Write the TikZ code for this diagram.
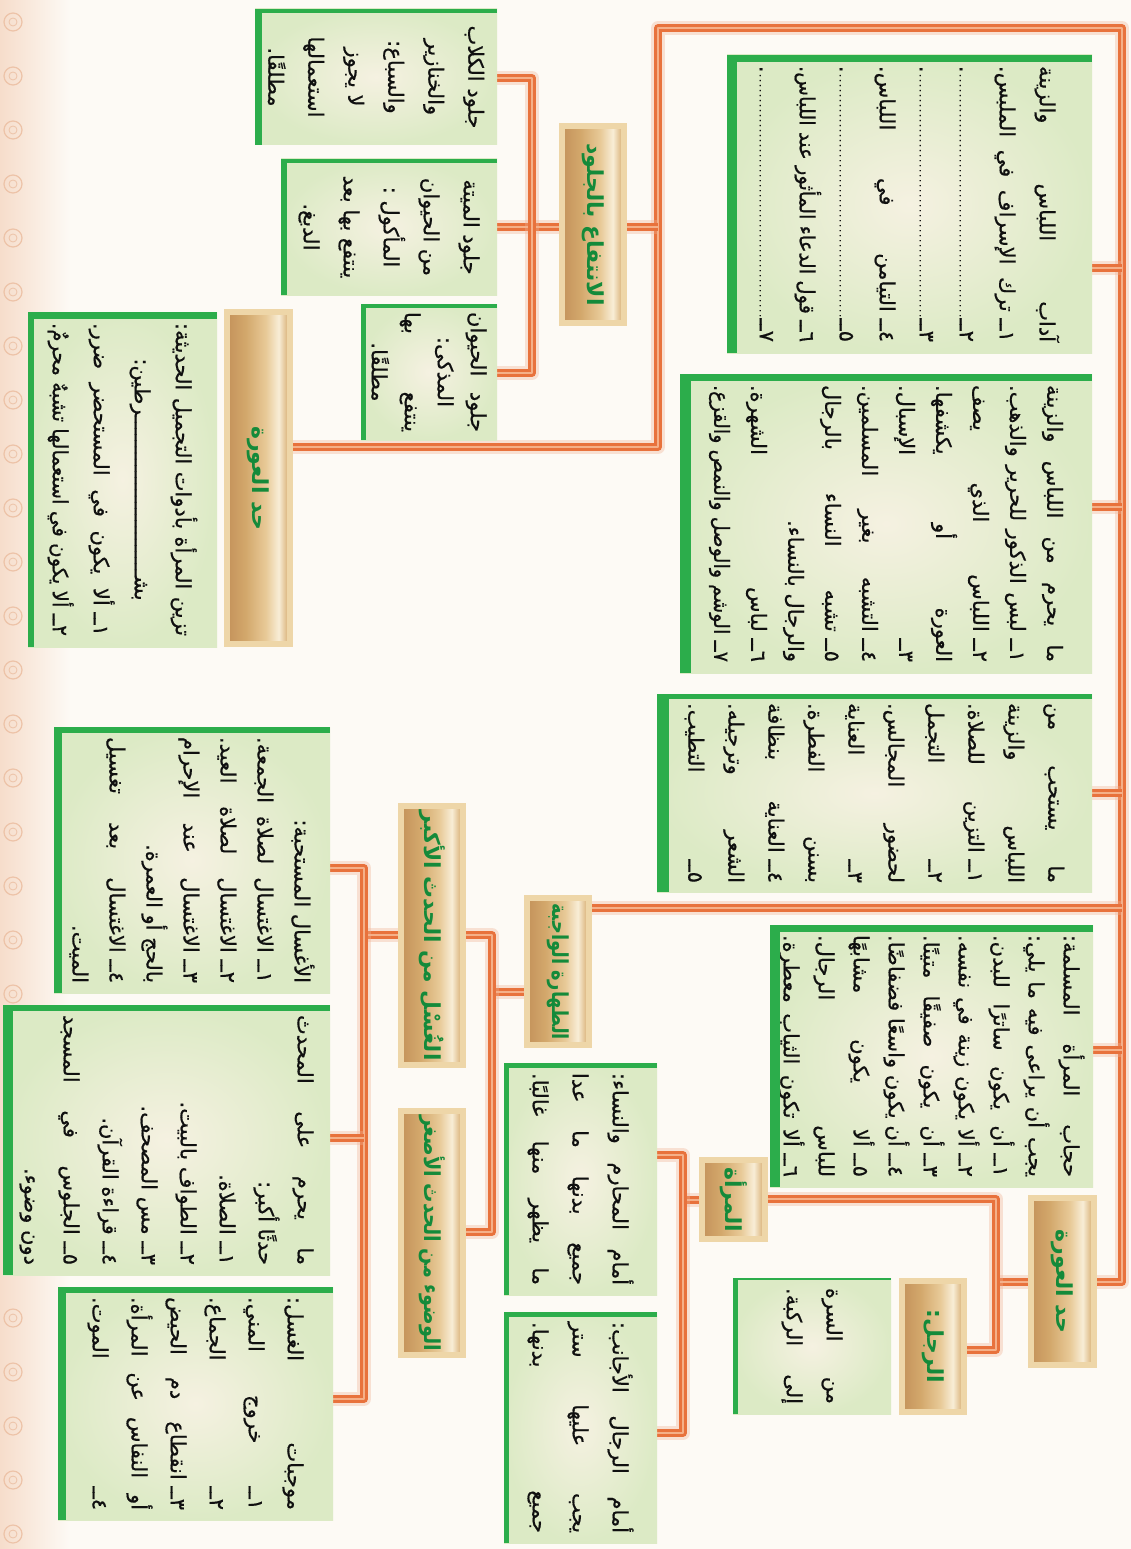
\documentclass[tikz,border=0pt]{standalone}
\usepackage{fontspec}
\usepackage{graphicx}
\usetikzlibrary{calc,backgrounds}
\TeXXeTstate=1
\newfontfamily\ar[Script=Arabic]{DejaVu Sans}
\newfontfamily\arbody[Script=Arabic,FakeBold=0.6]{DejaVu Sans}
\definecolor{bgc}{HTML}{FDFAF5}
\definecolor{peach}{HTML}{F6DDCB}
\definecolor{peachline}{HTML}{EDC3A8}
\definecolor{boxin}{HTML}{F5F1E1}
\definecolor{boxout}{HTML}{DCEAC5}
\definecolor{barg}{HTML}{2CAD4B}
\definecolor{txt}{HTML}{101010}
\definecolor{cylborder}{HTML}{EED6A8}
\definecolor{cylgreen}{HTML}{148A3A}
\definecolor{cyA}{HTML}{C4925A}
\definecolor{cyB}{HTML}{D3A86C}
\definecolor{cyC}{HTML}{E8CA98}
\definecolor{cyD}{HTML}{F8EDD6}
\definecolor{cyE}{HTML}{D3A564}
\definecolor{pipec}{HTML}{E8723C}
\definecolor{pipelight}{HTML}{F5B088}
\definecolor{pipeglow}{HTML}{F0B293}
\pgfdeclarehorizontalshading{cylsh}{100bp}{color(0bp)=(cyA); color(25bp)=(cyA); color(40bp)=(cyB); color(56bp)=(cyC); color(66bp)=(cyD); color(75bp)=(cyE); color(100bp)=(cyE)}

% #3 is one line of right-to-left text, already inside \beginR ... \endR
\newcommand\mkln[3]{\setbox0=\hbox{#3}%
  \ifdim\wd0>\hsize\hbox to\hsize{\resizebox{\hsize}{\height}{\box0}}%
  \else\hbox to\hsize{#1#3#2}\fi}
\newcommand\lnJ[1]{\mkln{}{}{#1}}
\newcommand\lnR[1]{\mkln{\hfil}{}{#1}}
\newcommand\lnC[1]{\mkln{\hfil}{\hfil}{#1}}
\newcommand\dotsln{\cleaders\hbox to 5pt{\hss\fontsize{10}{10}\selectfont.\hss}\hfill}
\newcommand\lnD[1]{\hbox to\hsize{#1}}
\newcommand\tbx[3]{\rotatebox{-90}{\parbox{#1pt}{\arbody\color{txt}\fontsize{21}{#2}\selectfont #3}}}
\newcommand\cbx[2]{\rotatebox{-90}{\parbox{#1pt}{\ar\bfseries\fontsize{22}{26}\selectfont\lnC{#2}}}}
\newcommand\gbar[3]{\fill[barg] (#1.north west) rectangle ($(#1.south west)+(#2,0)$);
  \fill[barg] (#1.north west) rectangle ($(#1.north east)+(0,-#3)$);}
\newcommand\pp[1]{\draw[glow] #1; \draw[pipe] #1;}

\begin{document}
\begin{tikzpicture}[x=1pt,y=1pt,
  box/.style={inner sep=0pt,outer sep=0pt,inner color=boxin,outer color=boxout},
  cyl/.style={draw=cylborder,line width=6pt,shading=cylsh,inner sep=0pt,text=cylgreen},
  pipe/.style={draw=pipec,line width=2.8pt,double=pipelight,double distance=2pt,line join=round},
  glow/.style={draw=pipeglow,line width=14pt,opacity=0.35,line join=round}]
\useasboundingbox (0,0) rectangle (1131,-1549);

% ---------- boxes ----------
\node[box,minimum width=365,minimum height=298] (B1) at (909.5,-204) {\tbx{276}{40}{%
\lnJ{\beginR آداب \hfill اللباس \hfill والزينة\endR}
\lnJ{\beginR ١ــ ترك \hfill الإسراف \hfill في \hfill الملبس.\endR}
\lnD{\beginR ٢ــ\dotsln.\endR}
\lnD{\beginR ٣ــ\dotsln.\endR}
\lnJ{\beginR ٤ــ التيامن \hfill في \hfill اللباس.\endR}
\lnD{\beginR ٥ــ\dotsln.\endR}
\lnJ{\beginR ٦ــ قول \hfill الدعاء \hfill المأثور \hfill عند \hfill اللباس.\endR}
\lnD{\beginR ٧ــ\dotsln.\endR}}};

\node[box,minimum width=412,minimum height=299] (B2) at (886,-523.5) {\tbx{277}{37}{%
\lnJ{\beginR ما \hfill يحرم \hfill من \hfill اللباس \hfill والزينة\endR}
\lnJ{\beginR ١ــ لبس \hfill الذكور \hfill للحرير \hfill والذهب.\endR}
\lnJ{\beginR ٢ــ اللباس \hfill الذي \hfill يصف\endR}
\lnJ{\beginR العورة \hfill أو \hfill يكشفها.\endR}
\lnJ{\beginR ٣ــ \hfill الإسبال.\endR}
\lnJ{\beginR ٤ــ التشبه \hfill بغير \hfill المسلمين.\endR}
\lnJ{\beginR ٥ــ تشبه \hfill النساء \hfill بالرجال\endR}
\lnR{\beginR والرجال بالنساء.\endR}
\lnJ{\beginR ٦ــ لباس \hfill الشهرة.\endR}
\lnJ{\beginR ٧ــ الوشم \hfill والوصل \hfill والنمص \hfill والقزع.\endR}}};

\node[box,minimum width=435,minimum height=198] (B3) at (874.5,-793) {\tbx{180}{40}{%
\lnJ{\beginR ما \hfill يستحب \hfill من\endR}
\lnJ{\beginR اللباس \hfill والزينة\endR}
\lnJ{\beginR ١ــ التزين \hfill للصلاة.\endR}
\lnJ{\beginR ٢ــ \hfill التجمل\endR}
\lnJ{\beginR لحضور \hfill المجالس.\endR}
\lnJ{\beginR ٣ــ \hfill العناية\endR}
\lnJ{\beginR بسنن \hfill الفطرة.\endR}
\lnJ{\beginR ٤ــ العناية \hfill بنظافة\endR}
\lnJ{\beginR الشعر \hfill وترجيله.\endR}
\lnJ{\beginR ٥ــ \hfill التطيب.\endR}}};

\node[box,minimum width=323,minimum height=262] (B4) at (931.5,-1056) {\tbx{242}{35}{%
\lnJ{\beginR حجاب \hfill المرأة \hfill المسلمة:\endR}
\lnJ{\beginR يجب \hfill أن \hfill يراعى \hfill فيه \hfill ما \hfill يلي:\endR}
\lnJ{\beginR ١ــ أن \hfill يكون \hfill ساترًا \hfill للبدن.\endR}
\lnJ{\beginR ٢ــ ألا \hfill يكون \hfill زينة \hfill في \hfill نفسه.\endR}
\lnJ{\beginR ٣ــ أن \hfill يكون \hfill صفيقًا \hfill متينًا.\endR}
\lnJ{\beginR ٤ــ أن \hfill يكون \hfill واسعًا \hfill فضفاضًا.\endR}
\lnJ{\beginR ٥ــ ألا \hfill يكون \hfill مشابهًا\endR}
\lnJ{\beginR للباس \hfill الرجال.\endR}
\lnJ{\beginR ٦ــ ألا \hfill تكون \hfill الثياب \hfill معطرة.\endR}}};

\node[box,minimum width=158,minimum height=136] (B7) at (812,-1346) {\tbx{116}{40}{%
\lnJ{\beginR من \hfill السرة\endR}
\lnJ{\beginR إلى \hfill الركبة.\endR}}};

\node[box,minimum width=153,minimum height=232] (B9) at (580.5,-1179) {\tbx{212}{40}{%
\lnJ{\beginR أمام \hfill المحارم \hfill والنساء:\endR}
\lnJ{\beginR جميع \hfill بدنها \hfill ما \hfill عدا\endR}
\lnJ{\beginR ما \hfill يظهر \hfill منها \hfill غالبًا.\endR}}};

\node[box,minimum width=153,minimum height=231] (B10) at (580.5,-1427.5) {\tbx{211}{40}{%
\lnJ{\beginR أمام \hfill الرجال \hfill الأجانب:\endR}
\lnJ{\beginR يجب \hfill عليها \hfill ستر\endR}
\lnJ{\beginR جميع \hfill بدنها.\endR}}};

\node[box,minimum width=276,minimum height=266] (B14) at (192,-860) {\tbx{246}{37}{%
\lnR{\beginR الأغسال المستحبة:\endR}
\lnJ{\beginR ١ــ الاغتسال \hfill لصلاة \hfill الجمعة.\endR}
\lnJ{\beginR ٢ــ الاغتسال \hfill لصلاة \hfill العيد.\endR}
\lnJ{\beginR ٣ــ الاغتسال \hfill عند \hfill الإحرام\endR}
\lnR{\beginR بالحج أو العمرة.\endR}
\lnJ{\beginR ٤ــ الاغتسال \hfill بعد \hfill تغسيل\endR}
\lnR{\beginR الميت.\endR}}};

\node[box,minimum width=327,minimum height=270] (B15) at (166.5,-1140) {\tbx{250}{39}{%
\lnJ{\beginR ما \hfill يحرم \hfill على \hfill المحدث\endR}
\lnR{\beginR حدثًا أكبر:\endR}
\lnR{\beginR ١ــ الصلاة.\endR}
\lnR{\beginR ٢ــ الطواف بالبيت.\endR}
\lnR{\beginR ٣ــ مس المصحف.\endR}
\lnR{\beginR ٤ــ قراءة القرآن.\endR}
\lnJ{\beginR ٥ــ الجلوس \hfill في \hfill المسجد\endR}
\lnR{\beginR دون وضوء.\endR}}};

\node[box,minimum width=275,minimum height=233] (B16) at (195.5,-1403.5) {\tbx{213}{39}{%
\lnJ{\beginR موجبات \hfill الغسل:\endR}
\lnJ{\beginR ١ــ \hfill خروج \hfill المني.\endR}
\lnJ{\beginR ٢ــ \hfill الجماع.\endR}
\lnJ{\beginR ٣ــ انقطاع \hfill دم \hfill الحيض\endR}
\lnJ{\beginR أو \hfill النفاس \hfill عن \hfill المرأة.\endR}
\lnJ{\beginR ٤ــ \hfill الموت.\endR}}};

\node[box,minimum width=189,minimum height=335] (B18) at (122.5,-479.5) {\tbx{313}{41}{%
\lnJ{\beginR تزين \hfill المرأة \hfill بأدوات \hfill التجميل \hfill الحديثة:\endR}
\lnC{\beginR بشــــــــــــــــــــــــــرطين:\endR}
\lnJ{\beginR ١ــ ألا \hfill يكون \hfill في \hfill المستحضر \hfill ضرر.\endR}
\lnJ{\beginR ٢ــ ألا \hfill يكون \hfill في \hfill استعمالها \hfill تشبهٌ \hfill محرمٌ.\endR}}};

\node[box,minimum width=242,minimum height=136] (B20) at (376,-77) {\tbx{122}{40}{%
\lnC{\beginR جلود الكلاب\endR}
\lnC{\beginR والخنازير\endR}
\lnC{\beginR والسباع:\endR}
\lnC{\beginR لا يجوز\endR}
\lnC{\beginR استعمالها\endR}
\lnC{\beginR مطلقًا.\endR}}};

\node[box,minimum width=216,minimum height=136] (B21) at (389,-227) {\tbx{122}{40}{%
\lnC{\beginR جلود الميتة\endR}
\lnC{\beginR من الحيوان\endR}
\lnC{\beginR المأكول :\endR}
\lnC{\beginR ينتفع بها بعد\endR}
\lnC{\beginR الدبغ.\endR}}};

\node[box,minimum width=136,minimum height=136] (B22) at (429,-372) {\tbx{120}{33}{%
\lnJ{\beginR جلود \hfill الحيوان\endR}
\lnC{\beginR المذكى:\endR}
\lnJ{\beginR ينتفع \hfill بها\endR}
\lnC{\beginR مطلقًا.\endR}}};

% ---------- green bars ----------
\gbar{B1}{10}{7}
\gbar{B2}{11}{7}
\gbar{B3}{12}{5}
\gbar{B4}{10}{7}
\gbar{B7}{5}{2}
\gbar{B9}{5}{5}
\gbar{B10}{5}{5}
\gbar{B14}{8}{6}
\gbar{B15}{10}{6}
\gbar{B16}{8}{6}
\gbar{B18}{6}{7}
\gbar{B20}{7}{4}
\gbar{B21}{6}{4}
\gbar{B22}{5}{4}

% ---------- cylinders ----------
\node[cyl,minimum width=63,minimum height=167] (C5) at (1062.5,-1281.5) {\cbx{150}{\beginR حد العورة\endR}};
\node[cyl,minimum width=62,minimum height=131] (C6) at (933,-1346.5) {\cbx{115}{\beginR الرجل:\endR}};
\node[cyl,minimum width=63,minimum height=79] (C8) at (733.5,-1199.5) {\cbx{72}{\beginR المرأة\endR}};
\node[cyl,minimum width=62,minimum height=147] (C11) at (558,-971.5) {\cbx{137}{\beginR الطهارة الواجبة\endR}};
\node[cyl,minimum width=62,minimum height=259] (C12) at (432,-935.5) {\cbx{250}{\beginR الغُسْل من الحدث الأكبر\endR}};
\node[cyl,minimum width=62,minimum height=244] (C13) at (432,-1233) {\cbx{236}{\beginR الوضوء من الحدث الأصغر\endR}};
\node[cyl,minimum width=63,minimum height=332] (C17) at (258.5,-478) {\cbx{300}{\beginR حد العورة\endR}};
\node[cyl,minimum width=62,minimum height=197] (C19) at (593,-224.5) {\cbx{186}{\beginR الانتفاع بالجلود\endR}};

% ---------- junctions ----------
\coordinate (jA) at (658,-447);
\coordinate (tTL) at (658,-28);
\coordinate (tTR) at (1122,-28);
\coordinate (tB) at (1122,-1282);
\coordinate (r1) at (1122,-268);
\coordinate (r2) at (1122,-507);
\coordinate (r3) at (1122,-793);
\coordinate (r4) at (1122,-908);
\coordinate (r5) at (1122,-1050);
\coordinate (l1) at (658,-227);
\coordinate (g0) at (532,-227);
\coordinate (g1) at (532,-78);
\coordinate (g2) at (532,-373);
\coordinate (h0) at (996,-1282);
\coordinate (h1) at (996,-1199);
\coordinate (h2) at (996,-1350);
\coordinate (k0) at (683,-1200);
\coordinate (k1) at (683,-1155);
\coordinate (k2) at (683,-1433);
\coordinate (m0) at (492,-992);
\coordinate (m1) at (492,-935);
\coordinate (m2) at (492,-1232);
\coordinate (n0) at (364,-935);
\coordinate (n1) at (364,-868);
\coordinate (n2) at (364,-1399);
\coordinate (n3) at (364,-1138);

\begin{scope}[on background layer]
\fill[bgc] (0,0) rectangle (1131,-1549);
\shade[left color=peach,right color=bgc] (0,0) rectangle (70,-1549);
\foreach \i in {0,...,28} {
  \draw[peachline,line width=1.2pt] (13,-22-54*\i) circle (9);
  \draw[peachline,line width=0.8pt] (13,-22-54*\i) circle (4);
}
\pp{(jA -| C17.east) -- (jA) -- (tTL) -- (tTR) -- (tB) -- (tB -| C5.east)}
\pp{(r1) -- (r1 -| B1.east)}
\pp{(r2) -- (r2 -| B2.east)}
\pp{(r3) -- (r3 -| B3.east)}
\pp{(r4) -- (r4 -| C11.east)}
\pp{(r5) -- (r5 -| B4.east)}
\pp{(l1) -- (l1 -| C19.east)}
\pp{(g0 -| C19.west) -- (g0) -- (g0 -| B21.east)}
\pp{(g1 -| B20.east) -- (g1) -- (g2) -- (g2 -| B22.east)}
\pp{(h0 -| C5.west) -- (h0)}
\pp{(h1 -| C8.east) -- (h1) -- (h2) -- (h2 -| C6.east)}
\pp{(k0 -| C8.west) -- (k0)}
\pp{(k1 -| B9.east) -- (k1) -- (k2) -- (k2 -| B10.east)}
\pp{(m0 -| C11.west) -- (m0)}
\pp{(m1 -| C12.east) -- (m1) -- (m2) -- (m2 -| C13.east)}
\pp{(n0 -| C12.west) -- (n0)}
\pp{(n1 -| B14.east) -- (n1) -- (n2) -- (n2 -| B16.east)}
\pp{(n3) -- (n3 -| B15.east)}
\end{scope}
\end{tikzpicture}
\end{document}
